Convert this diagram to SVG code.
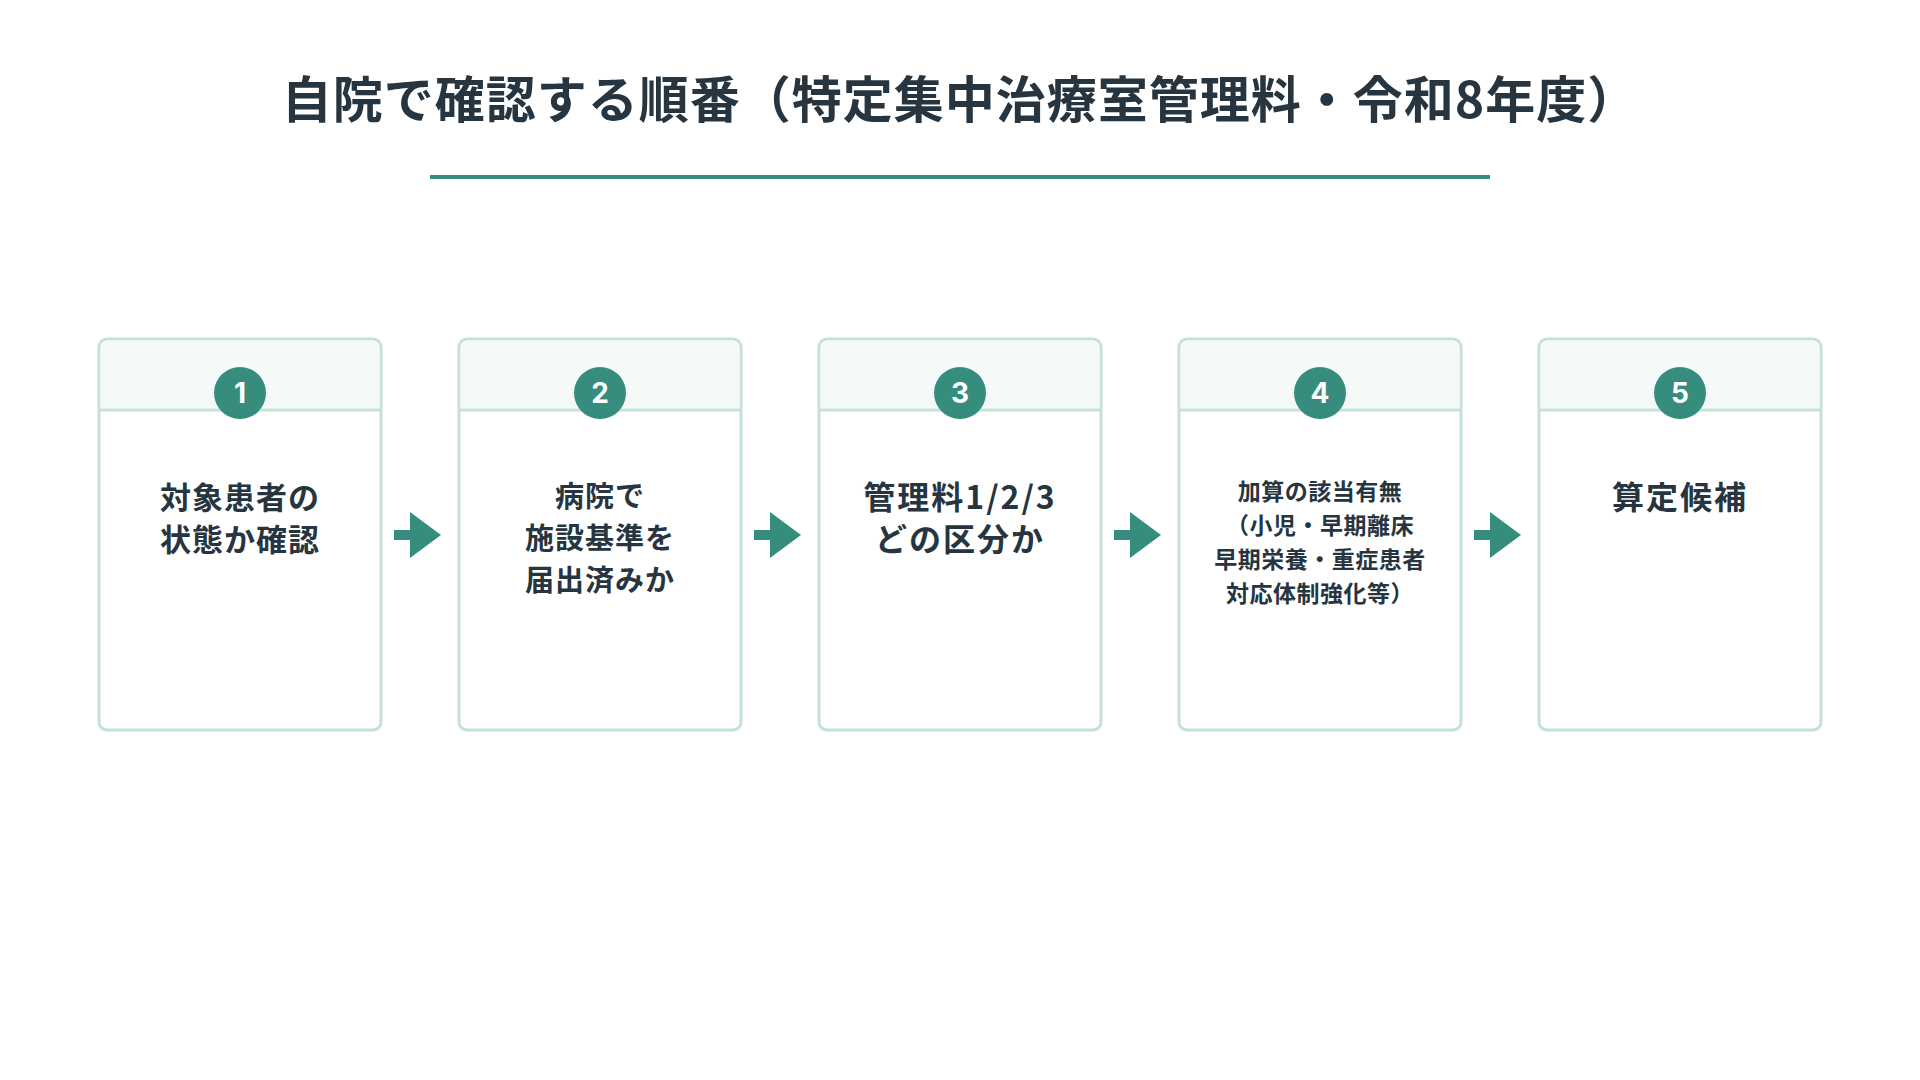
<svg xmlns="http://www.w3.org/2000/svg" width="1920" height="1080" viewBox="0 0 1920 1080">
<style>
text{font-family:"Noto Sans CJK JP","Noto Sans",sans-serif;fill:#263540;font-weight:700;text-anchor:middle}
.card{fill:#fff;stroke:#c6e1db;stroke-width:3}
.hd{fill:#f5faf8}
.sep{stroke:#c6e1db;stroke-width:3}
.num{fill:#368c7d}
.nt{fill:#fff;font-size:28px;font-family:"Inter","Noto Sans",sans-serif}
.arr{fill:#368c7d}
</style>
<rect width="1920" height="1080" fill="#fff"/>
<text x="960" y="118" font-size="50" letter-spacing="1">自院で確認する順番（特定集中治療室管理料・令和8年度）</text>
<line x1="430" y1="177" x2="1490" y2="177" stroke="#368c7d" stroke-width="4"/>
<g id="node1"><rect class="card" x="99" y="339" width="282" height="391" rx="8"/><path class="hd" d="M107,340.5h266a6.5,6.5 0 0 1 6.5,6.5v63h-279v-63a6.5,6.5 0 0 1 6.5-6.5z"/><line class="sep" x1="99" y1="410" x2="381" y2="410"/><circle class="num" cx="240" cy="393" r="26"/><text class="nt" x="240" y="403">1</text>
<text x="240" y="509" font-size="31" letter-spacing="1">対象患者の</text><text x="240" y="551" font-size="31" letter-spacing="1">状態か確認</text></g>
<g id="node2"><rect class="card" x="459" y="339" width="282" height="391" rx="8"/><path class="hd" d="M467,340.5h266a6.5,6.5 0 0 1 6.5,6.5v63h-279v-63a6.5,6.5 0 0 1 6.5-6.5z"/><line class="sep" x1="459" y1="410" x2="741" y2="410"/><circle class="num" cx="600" cy="393" r="26"/><text class="nt" x="600" y="403">2</text>
<text x="600" y="507" font-size="29" letter-spacing="1">病院で</text><text x="600" y="549" font-size="29" letter-spacing="1">施設基準を</text><text x="600" y="591" font-size="29" letter-spacing="1">届出済みか</text></g>
<g id="node3"><rect class="card" x="819" y="339" width="282" height="391" rx="8"/><path class="hd" d="M827,340.5h266a6.5,6.5 0 0 1 6.5,6.5v63h-279v-63a6.5,6.5 0 0 1 6.5-6.5z"/><line class="sep" x1="819" y1="410" x2="1101" y2="410"/><circle class="num" cx="960" cy="393" r="26"/><text class="nt" x="960" y="403">3</text>
<text x="960" y="509" font-size="32" letter-spacing="2">管理料1/2/3</text><text x="960" y="551" font-size="32" letter-spacing="2">どの区分か</text></g>
<g id="node4"><rect class="card" x="1179" y="339" width="282" height="391" rx="8"/><path class="hd" d="M1187,340.5h266a6.5,6.5 0 0 1 6.5,6.5v63h-279v-63a6.5,6.5 0 0 1 6.5-6.5z"/><line class="sep" x1="1179" y1="410" x2="1461" y2="410"/><circle class="num" cx="1320" cy="393" r="26"/><text class="nt" x="1320" y="403">4</text>
<text x="1320" y="500" font-size="23" letter-spacing="0.5">加算の該当有無</text><text x="1320" y="534" font-size="23" letter-spacing="0.5">（小児・早期離床</text><text x="1320" y="568" font-size="23" letter-spacing="0.5">早期栄養・重症患者</text><text x="1320" y="602" font-size="23" letter-spacing="0.5">対応体制強化等）</text></g>
<g id="node5"><rect class="card" x="1539" y="339" width="282" height="391" rx="8"/><path class="hd" d="M1547,340.5h266a6.5,6.5 0 0 1 6.5,6.5v63h-279v-63a6.5,6.5 0 0 1 6.5-6.5z"/><line class="sep" x1="1539" y1="410" x2="1821" y2="410"/><circle class="num" cx="1680" cy="393" r="26"/><text class="nt" x="1680" y="403">5</text>
<text x="1680" y="509" font-size="32" letter-spacing="2">算定候補</text></g>
<g id="connectors">
<path class="arr" d="M394,530h16v-18l31,23l-31,23v-18h-16z"/>
<path class="arr" d="M754,530h16v-18l31,23l-31,23v-18h-16z"/>
<path class="arr" d="M1114,530h16v-18l31,23l-31,23v-18h-16z"/>
<path class="arr" d="M1474,530h16v-18l31,23l-31,23v-18h-16z"/>
</g>
</svg>
